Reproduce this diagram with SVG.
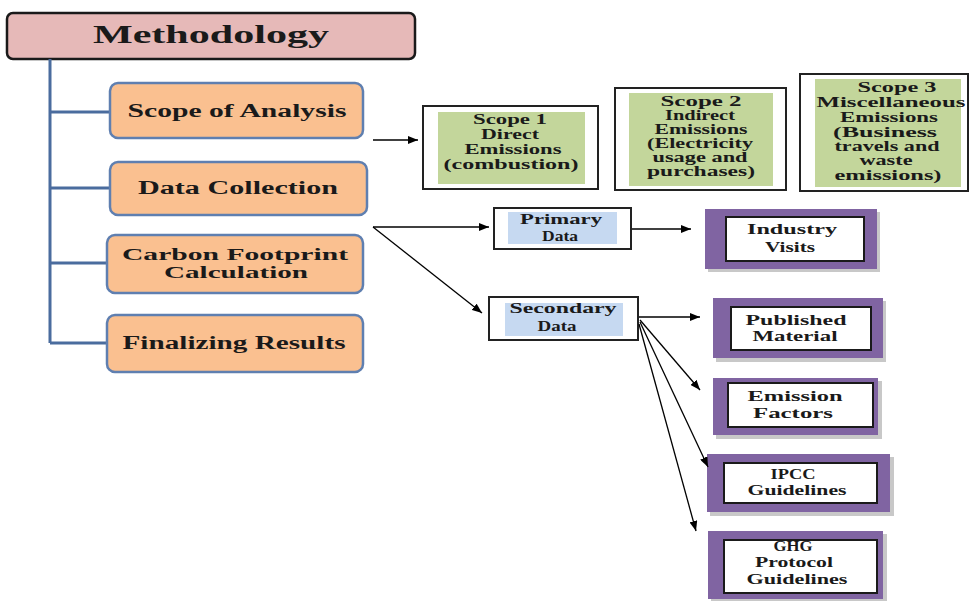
<svg xmlns="http://www.w3.org/2000/svg" width="971" height="601" viewBox="0 0 971 601">
<defs>
<marker id="ah" markerWidth="10" markerHeight="8" refX="10" refY="4" orient="auto" markerUnits="userSpaceOnUse">
<path d="M0,0 L10,4 L0,8 Z" fill="#000"/>
</marker>
<style>
.t{font-family:"Liberation Serif","Times New Roman",serif;font-weight:bold;text-anchor:middle;fill:#1a1a1a}
.t14{font-size:14px}
.t15{font-size:15px}
.t17{font-size:17px}
.t18{font-size:18px}
.step{fill:#FAC090;stroke:#5F7FB0;stroke-width:2.5}
.tree{fill:none;stroke:#4A6C9E;stroke-width:3}
.scope{fill:#fff;stroke:#222;stroke-width:2}
.green{fill:#C3D69B}
.blue{fill:#C6D9F1}
.shadow{fill:#C8C8C8}
.purple{fill:#8064A2}
.inner{fill:#fff;stroke:#1a1a1a;stroke-width:2}
.conn{fill:none;stroke:#000;stroke-width:1.3;marker-end:url(#ah)}
</style>
</defs>
<rect width="971" height="601" fill="#fff"/>

<g id="methodology">
<rect x="7" y="13" width="408" height="46" rx="6" fill="#E6B9B8" stroke="#1a1a1a" stroke-width="2.5"/>
<text class="t" x="211" y="43" font-size="25" textLength="236" lengthAdjust="spacingAndGlyphs">Methodology</text>
</g>

<g id="tree-lines">
<path class="tree" d="M50,59 V343 M50,112 H110 M50,188 H110 M50,263 H107 M50,343 H107"/>
</g>

<g id="scope-of-analysis">
<rect class="step" x="110" y="83" width="253" height="55" rx="8"/>
<text class="t t18" x="237" y="117" textLength="219" lengthAdjust="spacingAndGlyphs">Scope of Analysis</text>
</g>
<g id="data-collection">
<rect class="step" x="110" y="162" width="257" height="53" rx="8"/>
<text class="t t18" x="238" y="194" textLength="200" lengthAdjust="spacingAndGlyphs">Data Collection</text>
</g>
<g id="carbon-footprint">
<rect class="step" x="107" y="235" width="256" height="58" rx="8"/>
<text class="t t17" x="235" y="260" textLength="226" lengthAdjust="spacingAndGlyphs">Carbon Footprint</text>
<text class="t t17" x="236" y="278" textLength="144" lengthAdjust="spacingAndGlyphs">Calculation</text>
</g>
<g id="finalizing-results">
<rect class="step" x="107" y="315" width="256" height="57" rx="8"/>
<text class="t t18" x="234" y="349" textLength="223" lengthAdjust="spacingAndGlyphs">Finalizing Results</text>
</g>

<g id="scope1">
<rect class="scope" x="423" y="106" width="175" height="83"/>
<rect class="green" x="438" y="112" width="147" height="72"/>
<text class="t t14" x="510" y="124" textLength="74" lengthAdjust="spacingAndGlyphs">Scope 1</text>
<text class="t t14" x="510" y="139" textLength="58" lengthAdjust="spacingAndGlyphs">Direct</text>
<text class="t t14" x="513" y="154" textLength="97" lengthAdjust="spacingAndGlyphs">Emissions</text>
<text class="t t14" x="511" y="169" textLength="135" lengthAdjust="spacingAndGlyphs">(combustion)</text>
</g>
<g id="scope2">
<rect class="scope" x="615" y="88" width="171" height="102"/>
<rect class="green" x="629" y="93" width="144" height="93"/>
<text class="t t14" x="701" y="106" textLength="81" lengthAdjust="spacingAndGlyphs">Scope 2</text>
<text class="t t14" x="700" y="120" textLength="70" lengthAdjust="spacingAndGlyphs">Indirect</text>
<text class="t t14" x="701" y="134" textLength="93" lengthAdjust="spacingAndGlyphs">Emissions</text>
<text class="t t14" x="700" y="148" textLength="106" lengthAdjust="spacingAndGlyphs">(Electricity</text>
<text class="t t14" x="700" y="162" textLength="95" lengthAdjust="spacingAndGlyphs">usage and</text>
<text class="t t14" x="701" y="176" textLength="108" lengthAdjust="spacingAndGlyphs">purchases)</text>
</g>
<g id="scope3">
<rect class="scope" x="800" y="74" width="168" height="117"/>
<rect class="green" x="815" y="79" width="146" height="108"/>
<text class="t t14" x="897" y="92" textLength="79" lengthAdjust="spacingAndGlyphs">Scope 3</text>
<text class="t t14" x="891" y="107" textLength="149" lengthAdjust="spacingAndGlyphs">Miscellaneous</text>
<text class="t t14" x="889" y="122" textLength="98" lengthAdjust="spacingAndGlyphs">Emissions</text>
<text class="t t14" x="885" y="137" textLength="104" lengthAdjust="spacingAndGlyphs">(Business</text>
<text class="t t14" x="887" y="151" textLength="105" lengthAdjust="spacingAndGlyphs">travels and</text>
<text class="t t14" x="886" y="165" textLength="53" lengthAdjust="spacingAndGlyphs">waste</text>
<text class="t t14" x="888" y="180" textLength="107" lengthAdjust="spacingAndGlyphs">emissions)</text>
</g>

<g id="primary-data">
<rect class="scope" x="494" y="208" width="137" height="41"/>
<rect class="blue" x="508" y="212" width="109" height="32"/>
<text class="t t15" x="561" y="224" textLength="82" lengthAdjust="spacingAndGlyphs">Primary</text>
<text class="t t15" x="560" y="241" textLength="36" lengthAdjust="spacingAndGlyphs">Data</text>
</g>
<g id="secondary-data">
<rect class="scope" x="489" y="297" width="149" height="43"/>
<rect class="blue" x="505" y="303" width="118" height="33"/>
<text class="t t15" x="563" y="313" textLength="107" lengthAdjust="spacingAndGlyphs">Secondary</text>
<text class="t t15" x="557" y="331" textLength="39" lengthAdjust="spacingAndGlyphs">Data</text>
</g>

<g id="industry-visits">
<rect class="shadow" x="708" y="212" width="172" height="60"/>
<rect class="purple" x="705" y="209" width="172" height="60"/>
<rect class="inner" x="726" y="217" width="138" height="44"/>
<text class="t t15" x="792" y="234" textLength="90" lengthAdjust="spacingAndGlyphs">Industry</text>
<text class="t t15" x="790" y="252" textLength="50" lengthAdjust="spacingAndGlyphs">Visits</text>
</g>
<g id="published-material">
<rect class="shadow" x="716" y="301" width="170" height="61"/>
<rect class="purple" x="713" y="298" width="170" height="60"/>
<rect class="inner" x="731" y="307" width="140" height="43"/>
<text class="t t15" x="796" y="325" textLength="101" lengthAdjust="spacingAndGlyphs">Published</text>
<text class="t t15" x="795" y="341" textLength="85" lengthAdjust="spacingAndGlyphs">Material</text>
</g>
<g id="emission-factors">
<rect class="shadow" x="716" y="381" width="166" height="58"/>
<rect class="purple" x="713" y="378" width="165" height="57"/>
<rect class="inner" x="728" y="383" width="145" height="44"/>
<text class="t t15" x="795" y="401" textLength="95" lengthAdjust="spacingAndGlyphs">Emission</text>
<text class="t t15" x="793" y="418" textLength="80" lengthAdjust="spacingAndGlyphs">Factors</text>
</g>
<g id="ipcc-guidelines">
<rect class="shadow" x="710" y="457" width="184" height="59"/>
<rect class="purple" x="707" y="454" width="183" height="58"/>
<rect class="inner" x="724" y="463" width="153" height="40"/>
<text class="t t15" x="793" y="479" textLength="45" lengthAdjust="spacingAndGlyphs">IPCC</text>
<text class="t t15" x="797" y="495" textLength="99" lengthAdjust="spacingAndGlyphs">Guidelines</text>
</g>
<g id="ghg-protocol-guidelines">
<rect class="shadow" x="711" y="534" width="176" height="67"/>
<rect class="purple" x="708" y="531" width="175" height="68"/>
<rect class="inner" x="724" y="540" width="153" height="53"/>
<text class="t t15" x="793" y="551" textLength="39" lengthAdjust="spacingAndGlyphs">GHG</text>
<text class="t t15" x="794" y="567" textLength="78" lengthAdjust="spacingAndGlyphs">Protocol</text>
<text class="t t15" x="797" y="584" textLength="101" lengthAdjust="spacingAndGlyphs">Guidelines</text>
</g>

<g id="connectors">
<path class="conn" d="M373,140 H418"/>
<path class="conn" d="M373,227 H489"/>
<path class="conn" d="M373,227 L482,313"/>
<path class="conn" d="M632,229 H691"/>
<path class="conn" d="M639,317 H700"/>
<path class="conn" d="M640,320 L700,390"/>
<path class="conn" d="M640,322 L708,467"/>
<path class="conn" d="M639,324 L696,531"/>
</g>
</svg>
